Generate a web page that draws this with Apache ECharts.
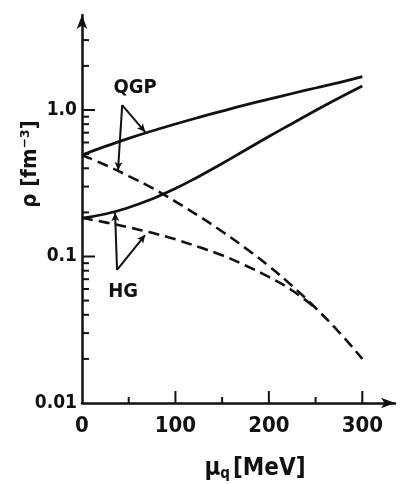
<!DOCTYPE html>
<html><head><meta charset="utf-8">
<script src="https://cdn.jsdelivr.net/npm/echarts/dist/echarts.min.js"></script>
<style>html,body{margin:0;padding:0;background:#fff;}#c{width:400px;height:484px;}</style>
</head><body><div id="c"></div>
<script>
// chemical potential mu_q [MeV]
const mu = [0, 25, 50, 75, 100, 125, 150, 175, 200, 225, 250, 275, 300];
// densities rho [fm^-3]
const qgpSolid  = [0.493, 0.564, 0.640, 0.719, 0.802, 0.890, 0.983, 1.082, 1.185, 1.296, 1.413, 1.538, 1.69];
const hgSolid   = [0.183, 0.195, 0.216, 0.247, 0.291, 0.352, 0.431, 0.533, 0.659, 0.809, 0.992, 1.207, 1.458];
const qgpDashed = [0.493, 0.421, 0.354, 0.294, 0.237, 0.189, 0.148, 0.114, 0.0861, 0.0629, 0.0445, 0.0305, 0.0200];
// HG dashed curve joins the QGP dashed curve near mu = 250
const hgDashed  = [0.183, 0.171, 0.158, 0.145, 0.131, 0.116, 0.102, 0.0868, 0.0725, 0.0586, 0.0445];
// ticks
const xMajorTicks = [100, 200, 300];
const xMinorTicks = [50, 150, 250];
const yMajorTicks = [0.1, 1];
const yMinorTicks = [0.02,0.03,0.04,0.05,0.06,0.07,0.08,0.09,0.2,0.3,0.4,0.5,0.6,0.7,0.8,0.9,2,3];
const yTickLabels = [[0.01,'0.01'],[0.1,'0.1'],[1,'1.0']];
// annotation pointers: [end, vertex, end]
const qgpPointer = [[38.6, 0.39], [43, 1.08], [67.5, 0.71]];
const hgPointer  = [[35.4, 0.198], [37.5, 0.0809], [67.5, 0.140]];
const labels = [[56.8, 1.41, 'QGP'], [44, 0.0572, 'HG']];

const FONT = '"DejaVu Sans Condensed", "DejaVu Sans", sans-serif';
const INK = '#111';
const zip = (a, b) => b.map((v, i) => [a[i], v]);

function tickSeries(data, dx, dy) {
  return {
    type: 'custom', silent: true, z: 5, clip: false,
    data: data,
    renderItem: function (params, api) {
      const p = api.coord([api.value(0), api.value(1)]);
      return { type: 'line', shape: { x1: p[0], y1: p[1], x2: p[0] + dx, y2: p[1] + dy },
               style: { stroke: INK, lineWidth: 2 } };
    }
  };
}
function pointerLines(pts) {
  return [
    [{ coord: pts[1] }, { coord: pts[0] }],
    [{ coord: pts[1] }, { coord: pts[2] }]
  ];
}

const chart = echarts.init(document.getElementById('c'));
chart.setOption({
  animation: false,
  backgroundColor: '#fff',
  grid: { left: 82, right: 5, top: 15, bottom: 81 },
  xAxis: {
    type: 'value', min: 0, max: 335, interval: 100,
    axisLine: { lineStyle: { color: INK, width: 2.5 }, symbol: ['none', 'arrow'], symbolSize: [8, 14] },
    axisTick: { show: false }, splitLine: { show: false },
    axisLabel: { color: INK, fontFamily: FONT, fontWeight: 'bold', fontSize: 22, margin: 12, showMaxLabel: false,
      formatter: v => (v % 100 === 0 ? String(v) : '') }
  },
  yAxis: {
    type: 'log', logBase: 10, min: 0.01, max: 4.45,
    axisLine: { lineStyle: { color: INK, width: 2.5 }, symbol: ['none', 'arrow'], symbolSize: [8, 14] },
    axisTick: { show: false }, splitLine: { show: false },
    axisLabel: { color: INK, fontFamily: FONT, fontWeight: 'bold', fontSize: 19, margin: 5, showMaxLabel: false,
      formatter: v => { const t = yTickLabels.find(e => Math.abs(e[0] - v) / e[0] < 1e-6); return t ? t[1] : ''; } }
  },
  series: [
    { type: 'line', smooth: true, symbol: 'none', data: zip(mu, qgpSolid), lineStyle: { color: INK, width: 2.8 } },
    { type: 'line', smooth: true, symbol: 'none', data: zip(mu, hgSolid), lineStyle: { color: INK, width: 2.8 } },
    { type: 'line', smooth: true, symbol: 'none', data: zip(mu, qgpDashed), lineStyle: { color: INK, width: 2.6, type: [11, 6] } },
    { type: 'line', smooth: true, symbol: 'none', data: zip(mu, hgDashed), lineStyle: { color: INK, width: 2.6, type: [11, 6] } },
    tickSeries(xMajorTicks.map(v => [v, 0.01]), 0, -12),
    tickSeries(xMinorTicks.map(v => [v, 0.01]), 0, -6),
    tickSeries(yMajorTicks.map(v => [0, v]), 13, 0),
    tickSeries(yMinorTicks.map(v => [0, v]), 7, 0),
    {
      type: 'scatter', symbolSize: 0, silent: true, itemStyle: { opacity: 1 },
      data: labels.map(l => ({ value: [l[0], l[1]], name: l[2] })),
      label: { show: true, position: 'inside', formatter: p => p.name, color: INK, opacity: 1,
               fontFamily: FONT, fontWeight: 'bold', fontSize: 20 },
      markLine: {
        silent: true, symbol: ['none', 'arrow'], symbolSize: [6, 8], label: { show: false },
        lineStyle: { color: INK, width: 2, type: 'solid', opacity: 1 },
        data: pointerLines(qgpPointer).concat(pointerLines(hgPointer))
      }
    }
  ],
  graphic: [
    { type: 'text', x: 30, y: 164, rotation: Math.PI / 2,
      style: { text: 'ρ [fm⁻³]', fill: INK, font: 'bold 22px ' + FONT, align: 'center', verticalAlign: 'middle' } },
    { type: 'text', x: 255, y: 469,
      style: { text: '{m|μ}{q|q}{b|[MeV]}', align: 'center', verticalAlign: 'middle',
        rich: {
          m: { fill: INK, fontFamily: FONT, fontWeight: 'bold', fontSize: 24 },
          q: { fill: INK, fontFamily: FONT, fontWeight: 'bold', fontSize: 15, padding: [10, 3, 0, 0] },
          b: { fill: INK, fontFamily: FONT, fontWeight: 'bold', fontSize: 24 }
        } } }
  ]
});
</script></body></html>
